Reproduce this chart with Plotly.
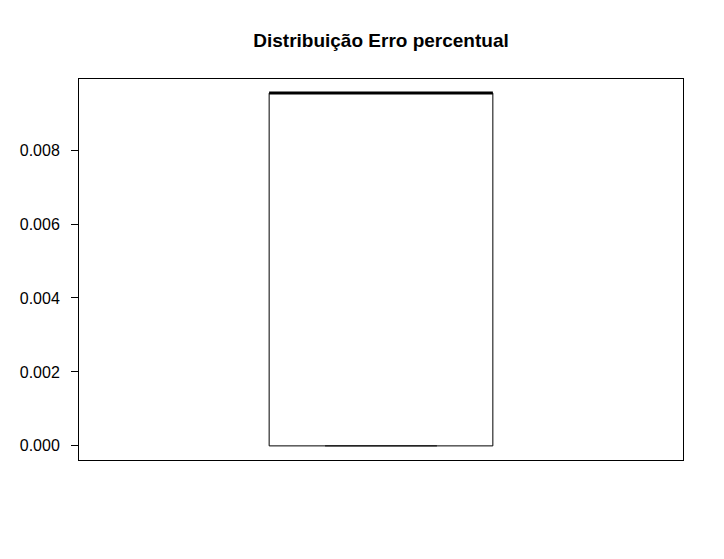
import plotly.graph_objects as go

# Boxplot statistics
lower_whisker = 0.0
q1 = 0.0
median = 0.00954
q3 = 0.00954
upper_whisker = 0.00954
tick_vals = [0.000, 0.002, 0.004, 0.006, 0.008]
tick_text = ["0.000", "0.002", "0.004", "0.006", "0.008"]
title = "Distribuição Erro percentual"

center = 1.0
half_box = 0.2
half_staple = 0.1

fig = go.Figure()
# box outline
fig.add_trace(go.Scatter(
    x=[center - half_box, center + half_box, center + half_box, center - half_box, center - half_box],
    y=[q1, q1, q3, q3, q1], mode="lines",
    line=dict(color="black", width=1), hoverinfo="skip", showlegend=False))
# whiskers (dashed)
fig.add_trace(go.Scatter(x=[center, center], y=[lower_whisker, q1], mode="lines",
                         line=dict(color="black", width=1, dash="dash"), showlegend=False))
fig.add_trace(go.Scatter(x=[center, center], y=[q3, upper_whisker], mode="lines",
                         line=dict(color="black", width=1, dash="dash"), showlegend=False))
# staples
fig.add_trace(go.Scatter(x=[center - half_staple, center + half_staple], y=[lower_whisker, lower_whisker],
                         mode="lines", line=dict(color="black", width=1), showlegend=False))
fig.add_trace(go.Scatter(x=[center - half_staple, center + half_staple], y=[upper_whisker, upper_whisker],
                         mode="lines", line=dict(color="black", width=1), showlegend=False))
# median (thick)
fig.add_trace(go.Scatter(x=[center - half_box, center + half_box], y=[median, median],
                         mode="lines", line=dict(color="black", width=3), showlegend=False))

span = upper_whisker - lower_whisker
fig.update_layout(
    width=724, height=559,
    margin=dict(l=79, r=41, t=78.6, b=98.6),
    paper_bgcolor="white", plot_bgcolor="white",
    font=dict(family="Liberation Sans, Arial, sans-serif", size=16, color="black"),
    title=dict(text="<b>" + title + "</b>", x=381 / 724, xanchor="center",
               y=1 - 40 / 559, yanchor="middle", font=dict(size=19)),
    xaxis=dict(range=[0.46, 1.54], showticklabels=False, ticks="", showgrid=False,
               zeroline=False, showline=True, mirror=True, linecolor="black", linewidth=1),
    yaxis=dict(range=[lower_whisker - 0.04 * span, upper_whisker + 0.04 * span],
               tickvals=tick_vals, ticktext=tick_text, ticks="outside", ticklen=7,
               tickcolor="black", showgrid=False, zeroline=False, showline=True,
               mirror=True, linecolor="black", linewidth=1, ticklabelstandoff=8),
)
fig.write_html("out.html")
